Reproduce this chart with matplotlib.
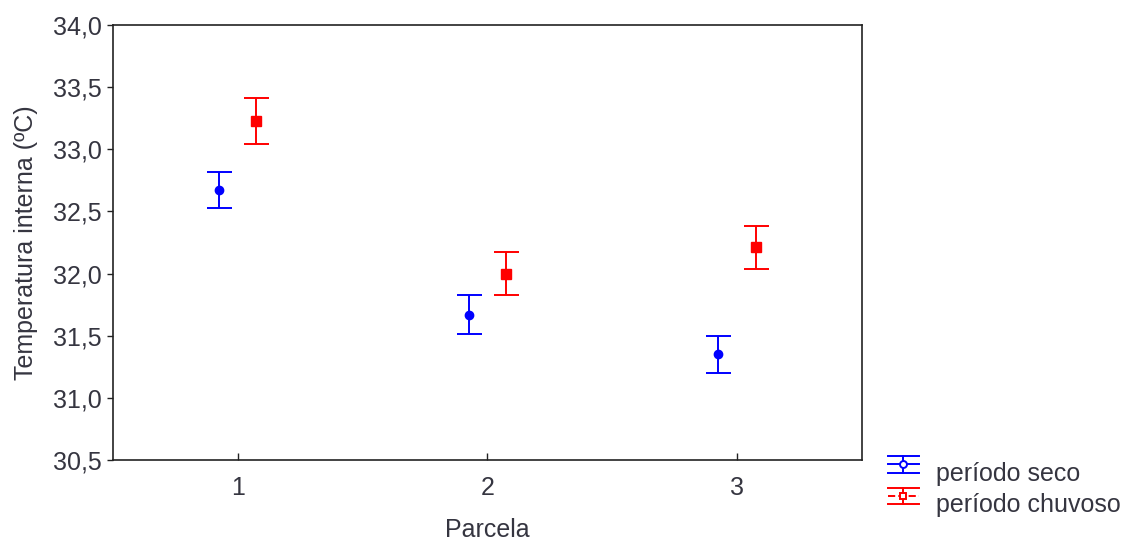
import matplotlib
matplotlib.use("Agg")
import matplotlib.pyplot as plt
from matplotlib.lines import Line2D
from matplotlib.legend_handler import HandlerBase
from matplotlib.ticker import FuncFormatter, FixedLocator

plt.rcParams["font.family"] = ["Liberation Sans", "DejaVu Sans"]

parcelas = [1, 2, 3]
y_ticks = [30.5, 31.0, 31.5, 32.0, 32.5, 33.0, 33.5, 34.0]

# período seco: means and half-width of the interval
seco_mean = [32.67, 31.67, 31.35]
seco_err = [0.145, 0.155, 0.15]

# período chuvoso
chuvoso_mean = [33.23, 32.00, 32.21]
chuvoso_err = [0.185, 0.175, 0.175]

text_color = "#353540"
fs = 18


class HandlerCaps(HandlerBase):
    """Legend key: line + hollow marker with whisker and caps."""

    def create_artists(self, legend, orig, xdescent, ydescent, width, height,
                       fontsize, trans):
        x0 = -xdescent
        x1 = x0 + width
        xc = (x0 + x1) / 2
        yc = -ydescent + height / 2 + 5.5
        h = 6
        c = orig.get_color()
        lw = orig.get_linewidth()
        arts = [
            Line2D([x0, x1], [yc, yc], color=c, lw=lw, ls=orig.get_linestyle()),
            Line2D([xc, xc], [yc - h, yc + h], color=c, lw=lw),
            Line2D([x0, x1], [yc + h, yc + h], color=c, lw=lw),
            Line2D([x0, x1], [yc - h, yc - h], color=c, lw=lw),
            Line2D([xc], [yc], color=c, marker=orig.get_marker(), ms=5,
                   mfc="white", mec=c, mew=lw, ls="none"),
        ]
        for a in arts:
            a.set_transform(trans)
        return arts


fig = plt.figure(figsize=(11.22, 5.42), dpi=100)
ax = fig.add_axes([0.1007, 0.1513, 0.6673, 0.8026])

off = 0.075
x_seco = [p - off for p in parcelas]
x_chuv = [p + off for p in parcelas]

ax.errorbar(x_seco, seco_mean, yerr=seco_err, fmt="o", color="blue",
            ms=6, capsize=9, elinewidth=1.4, capthick=1.4)
ax.errorbar(x_chuv, chuvoso_mean, yerr=chuvoso_err, fmt="s", color="red",
            ms=7, capsize=9, elinewidth=1.4, capthick=1.4)

ax.set_xlim(0.5, 3.5)
ax.set_ylim(30.5, 34.0)
ax.xaxis.set_major_locator(FixedLocator(parcelas))
ax.yaxis.set_major_locator(FixedLocator(y_ticks))
ax.yaxis.set_major_formatter(FuncFormatter(lambda v, p: ("%.1f" % v).replace(".", ",")))

ax.tick_params(axis="y", direction="out", length=4, width=1,
               labelsize=fs, labelcolor=text_color, color="#222222", pad=4)
ax.tick_params(axis="x", direction="in", length=5, width=1,
               labelsize=fs, labelcolor=text_color, color="#222222", pad=11.5)
for s in ax.spines.values():
    s.set_color("#222222")
    s.set_linewidth(1.2)

ax.set_xlabel("Parcela", fontsize=fs, color=text_color, labelpad=13)
ax.set_ylabel("Temperatura interna (ºC)", fontsize=fs, color=text_color, labelpad=11)

h1 = Line2D([], [], color="blue", ls="-", marker="o", lw=1.4)
h2 = Line2D([], [], color="red", ls=(0, (2.5, 2)), marker="s", lw=1.4)
leg = fig.legend([h1, h2], ["período seco", "período chuvoso"],
                 handler_map={Line2D: HandlerCaps()},
                 loc="upper left", bbox_to_anchor=(0.791, 0.148),
                 frameon=False, fontsize=fs, handlelength=1.25,
                 handletextpad=0.7, labelspacing=0.3, borderpad=0,
                 borderaxespad=0)
for t in leg.get_texts():
    t.set_color(text_color)

fig.savefig("out.png", dpi=100)
